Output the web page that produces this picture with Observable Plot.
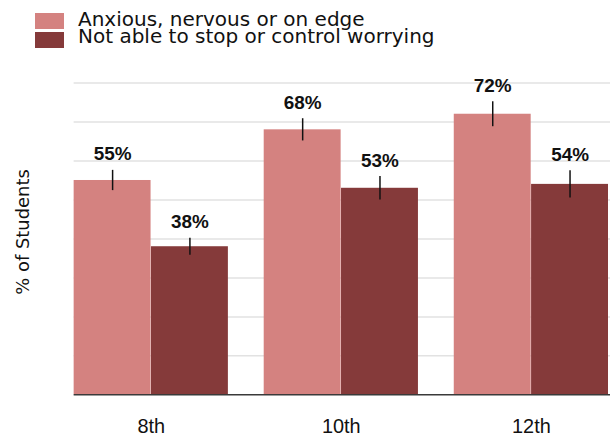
<!DOCTYPE html>
<html>
<head>
<meta charset="utf-8">
<script src="https://cdn.jsdelivr.net/npm/d3@7"></script>
<script src="https://cdn.jsdelivr.net/npm/@observablehq/plot@0.6"></script>
<style>
html, body { margin: 0; padding: 0; overflow: hidden; background: #fff; }
#legend { position: relative; height: 55px; width: 610px; font-family: "DejaVu Sans", Verdana, sans-serif; font-size: 20px; line-height: 20px; color: #111; }
#legend .sw { position: absolute; left: 35px; width: 29px; height: 16.5px; }
#legend .lb { position: absolute; left: 78px; white-space: nowrap; }
#chart svg { display: block; }
#chart [aria-label="ylabel"], #chart [aria-label="ylabel"] text { font-family: "DejaVu Sans", Verdana, sans-serif !important; }
</style>
</head>
<body>
<div id="legend"></div>
<div id="chart"></div>
<script>
const grades = ["8th", "10th", "12th"];
const seriesNames = ["Anxious, nervous or on edge", "Not able to stop or control worrying"];
const anxious = [55, 68, 72];
const anxiousErr = [2.6, 2.85, 3.2];
const worrying = [38, 53, 54];
const worryingErr = [2.2, 3.0, 3.5];
const gridTicks = [10, 20, 30, 40, 50, 60, 70, 80];
const colors = ["#d48280", "#853a3a"];

const rows = [];
grades.forEach((g, i) => {
  rows.push({grade: g, series: seriesNames[0], value: anxious[i], err: anxiousErr[i], k: 0});
  rows.push({grade: g, series: seriesNames[1], value: worrying[i], err: worryingErr[i], k: 1});
});
const A = rows.filter(d => d.k === 0);
const B = rows.filter(d => d.k === 1);

// legend
const legend = document.getElementById("legend");
const tops = [[12.7, 8.8], [31.7, 26.4]];
seriesNames.forEach((s, i) => {
  const sw = document.createElement("div");
  sw.className = "sw"; sw.style.top = tops[i][0] + "px"; sw.style.background = colors[i];
  legend.appendChild(sw);
  const lb = document.createElement("div");
  lb.className = "lb"; lb.style.top = tops[i][1] + "px"; lb.textContent = s;
  legend.appendChild(lb);
});

const half = 77.7;
const off = 38.85;
const plot = Plot.plot({
  width: 613,
  height: 384,
  marginLeft: 74,
  marginRight: 0,
  marginTop: 27.7,
  marginBottom: 43,
  style: {fontFamily: "'Liberation Sans', Arial, sans-serif", background: "white"},
  x: {domain: grades, paddingInner: 0.19, paddingOuter: 0, align: 0, label: null},
  y: {domain: [0, 80], axis: null},
  marks: [
    Plot.ruleY(gridTicks, {y: d => d, stroke: "#e2e2e2", strokeWidth: 1.5}),
    Plot.barY(A, {x: "grade", y: "value", fill: colors[0], insetRight: half}),
    Plot.barY(B, {x: "grade", y: "value", fill: colors[1], insetLeft: half}),
    Plot.ruleY([0], {stroke: "#3a3a3a", strokeWidth: 1.5}),
    Plot.ruleX(A, {x: "grade", y1: d => d.value - d.err, y2: d => d.value + d.err, dx: -off, stroke: "#111", strokeWidth: 1.5}),
    Plot.ruleX(B, {x: "grade", y1: d => d.value - d.err, y2: d => d.value + d.err, dx: off, stroke: "#111", strokeWidth: 1.5}),
    Plot.text(A, {x: "grade", y: d => d.value + d.err, text: d => d.value + "%", dx: -off, dy: -10, lineAnchor: "bottom", fontSize: 19, fontWeight: "bold", fill: "#111"}),
    Plot.text(B, {x: "grade", y: d => d.value + d.err, text: d => d.value + "%", dx: off, dy: -10, lineAnchor: "bottom", fontSize: 19, fontWeight: "bold", fill: "#111"}),
    Plot.axisX({tickSize: 0, tickPadding: 24, fontSize: 20, label: null, color: "#111"}),
    Plot.text(["% of Students"], {frameAnchor: "left", text: d => d, rotate: -90, textAnchor: "middle", lineAnchor: "middle", dx: -51, dy: -7, fontSize: 18, fontFamily: "DejaVu Sans", fill: "#111", ariaLabel: "ylabel"})
  ]
});
document.getElementById("chart").appendChild(plot);
</script>
</body>
</html>
